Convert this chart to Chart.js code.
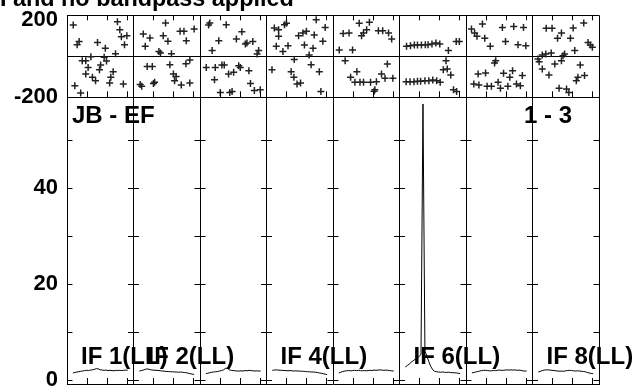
<!DOCTYPE html>
<html>
<head>
<meta charset="utf-8">
<script src="https://cdn.jsdelivr.net/npm/chart.js@4.4.1/dist/chart.umd.min.js"></script>
<style>
  html, body { margin: 0; padding: 0; background: #fff; }
  #wrap { width: 634px; height: 386px; overflow: hidden; }
</style>
</head>
<body>
<div id="wrap"><canvas id="possm" width="634" height="386"></canvas></div>
<script>
const titleText = 'I and no bandpass applied';
const baselineLabel = 'JB - EF';
const sourceLabel = '1 - 3';
// only some IF panels get a label in the original plot
const ifLabels = ['IF 1(LL)', 'IF 2(LL)', '', 'IF 4(LL)', '', 'IF 6(LL)', '', 'IF 8(LL)'];

const phaseTicks = [-200, 0, 200];
const ampTicks = [0, 10, 20, 30, 40, 50];
const ampLabels = [0, 20, 40];

// phase points (channel, degrees) per IF
const phaseChan = [
  [1.1, 12.4, 13.0, 13.4, 14.8, 14.2, 2.6, 2.1, 7.3, 9.3, 11.9, 3.4, 4.3, 5.6, 9.0, 9.6, 4.9, 8.1, 7.8, 4.3, 11.3, 6.0, 6.8, 10.7, 10.4, 13.9, 1.5, 3.0],
  [7.7, 2.0, 3.7, 2.5, 7.1, 8.3, 11.4, 12.4, 15.0, 13.0, 6.0, 6.4, 9.2, 12.9, 13.9, 3.0, 4.3, 8.8, 9.7, 10.4, 10.0, 11.7, 13.9, 1.2, 1.6, 4.6, 4.9],
  [2.0, 1.7, 6.2, 10.2, 4.3, 2.6, 8.8, 11.1, 11.5, 13.0, 14.5, 14.1, 1.1, 3.4, 5.1, 5.7, 6.8, 8.1, 9.4, 9.8, 12.0, 3.2, 12.4, 13.4, 14.9, 4.7, 7.1, 7.7],
  [1.5, 2.6, 4.1, 4.6, 12.2, 14.5, 2.6, 2.0, 5.0, 3.7, 7.7, 8.8, 9.7, 11.7, 13.9, 9.2, 11.4, 10.4, 6.6, 0.9, 5.8, 10.9, 13.0, 6.5, 7.3, 8.2, 13.4],
  [6.2, 8.8, 2.1, 3.6, 6.8, 7.3, 8.1, 11.1, 12.2, 13.7, 14.5, 1.1, 4.5, 2.6, 13.4, 5.6, 4.0, 5.1, 6.4, 7.3, 9.1, 10.6, 11.9, 12.8, 14.8, 10.2, 10.0],
  [1.3, 2.3, 3.3, 4.1, 5.1, 6.1, 6.8, 7.8, 8.8, 9.8, 12.0, 14.0, 14.8, 1.2, 2.2, 3.2, 4.1, 4.9, 6.0, 7.0, 8.0, 9.0, 9.9, 11.4, 10.7, 11.7, 12.6, 13.3, 14.1],
  [3.7, 0.9, 1.7, 2.3, 4.3, 5.7, 8.8, 11.7, 14.2, 9.6, 12.8, 14.8, 7.1, 6.8, 2.6, 4.5, 9.1, 11.4, 10.7, 13.9, 1.5, 2.8, 4.9, 6.0, 7.7, 8.3, 10.2, 12.4, 13.4],
  [3.0, 4.5, 6.9, 5.9, 9.9, 12.6, 9.2, 10.3, 13.7, 14.3, 14.8, 7.3, 7.7, 2.0, 2.9, 4.3, 1.2, 0.9, 5.2, 6.9, 11.7, 2.0, 3.7, 11.1, 12.8, 10.7, 6.3, 8.2, 8.8]
];
const phaseDeg = [
  [153, 169, 130, 96, 101, 57, 72, 57, 68, 39, 13, -21, -21, -2, -5, -23, -54, -42, -65, -86, -75, -102, -119, -102, -130, -135, -143, -179],
  [163, 109, 89, 49, 101, 73, 122, 122, 133, 76, 23, 16, 13, -36, -18, -49, -49, -41, -86, -98, -119, -140, -130, -138, -146, -132, -127],
  [163, 153, 154, 120, 76, 28, 85, 60, 65, 72, 28, 11, -54, -54, -42, -42, -86, -78, -46, -54, -70, -114, -132, -167, -163, -176, -176, -172],
  [138, 130, 154, 161, 179, 141, 98, 49, 52, 23, 101, 114, 122, 104, 73, 55, 39, 7, -16, -65, -75, -41, -75, -102, -135, -130, -171],
  [161, 166, 112, 114, 101, 114, 130, 125, 125, 114, 85, 31, 31, -21, -37, -75, -102, -127, -127, -127, -127, -124, -86, -107, -107, -163, -170],
  [49, 52, 55, 55, 55, 57, 57, 60, 65, 60, 28, 72, 72, -124, -124, -124, -122, -122, -119, -119, -115, -119, -127, -21, -65, -62, -91, -163, -172],
  [158, 133, 114, 98, 88, 49, 141, 146, 141, 72, 57, 52, -21, -33, -86, -81, -83, -70, -102, -94, -135, -140, -146, -146, -127, -156, -146, -135, -143],
  [137, 137, 114, 88, 138, 163, 88, 28, 68, 55, 44, 3, 11, 7, 11, 16, -26, -13, -37, -21, -42, -62, -91, -102, -94, -119, -156, -159, -176]
];

// amplitude spectra, sampled every half channel
const specChan = [1, 1.5, 2, 2.5, 3, 3.5, 4, 4.5, 5, 5.5, 6, 6.5, 7, 7.5, 8, 8.5, 9, 9.5, 10, 10.5, 11, 11.5, 12, 12.5, 13, 13.5, 14, 14.5, 15];
const ampIF = [
  [1.45, 1.55, 1.65, 1.7, 1.8, 1.85, 1.95, 2.0, 1.95, 2.05, 2.1, 2.2, 2.35, 2.3, 2.1, 2.05, 2.0, 2.05, 1.95, 2.0, 1.95, 1.9, 2.0, 1.95, 2.0, 1.95, 2.0, 2.05, 2.0],
  [1.85, 1.95, 2.05, 2.2, 2.3, 2.2, 2.1, 2.05, 2.0, 2.0, 1.95, 1.9, 1.85, 1.8, 1.75, 1.75, 1.7, 1.7, 1.65, 1.65, 1.6, 1.65, 1.6, 1.55, 1.5, 1.4, 1.3, 1.2, 1.15],
  [1.3, 1.4, 1.5, 1.6, 1.65, 1.7, 1.75, 1.85, 1.95, 2.1, 2.4, 2.45, 2.1, 2.0, 1.95, 1.9, 1.85, 1.85, 1.9, 1.85, 1.95, 1.9, 2.0, 1.95, 1.9, 1.85, 1.9, 1.85, 1.85],
  [2.0, 2.05, 2.1, 2.05, 2.0, 2.0, 1.95, 1.95, 1.9, 1.95, 1.9, 1.85, 1.9, 1.85, 1.85, 1.8, 1.8, 1.75, 1.7, 1.7, 1.65, 1.65, 1.6, 1.55, 1.45, 1.4, 1.3, 1.2, 1.1],
  [1.45, 1.6, 1.75, 1.85, 1.9, 1.95, 1.9, 1.95, 2.0, 1.95, 2.0, 1.95, 1.9, 1.95, 1.9, 1.95, 2.0, 1.95, 2.05, 2.0, 2.05, 2.1, 2.05, 2.0, 2.05, 2.0, 1.95, 1.9, 1.85],
  [2.7, 3.0, 3.3, 3.7, 4.0, 4.3, 4.6, 4.9, 5.3, 57.5, 6.0, 5.0, 3.8, 2.8, 2.1, 1.8, 1.7, 1.65, 1.6, 1.65, 1.6, 1.55, 1.6, 1.55, 1.5, 1.5, 1.45, 1.4, 1.3],
  [1.45, 1.55, 1.65, 1.75, 1.85, 1.95, 2.0, 2.0, 1.95, 1.9, 1.9, 1.95, 1.95, 2.0, 2.05, 2.0, 2.0, 2.05, 2.1, 2.05, 2.1, 2.05, 2.1, 2.0, 2.05, 2.0, 1.9, 1.85, 1.85],
  [1.65, 1.8, 1.95, 2.05, 2.1, 2.1, 2.05, 2.0, 1.95, 1.9, 1.85, 1.8, 1.85, 1.8, 1.9, 1.95, 2.0, 1.95, 1.9, 1.85, 1.9, 1.85, 1.8, 1.75, 1.7, 1.55, 1.45, 1.35, 1.3]
];

const PANEL = 17;            // panel width in channel units
const nIF = ampIF.length;
const minorTicks = [5.1, 10.2, 15.3];
const edge = p => p * PANEL - 0.5;
const panelEdges = [];
for (let p = 0; p <= nIF; p++) panelEdges.push(edge(p));

const FONT = 'Liberation Sans';
const tickFont = { family: FONT, size: 22, weight: 'bold' };
// the top phase label sits a little below its line, as in the original
const topTickFont = { family: FONT, size: 22, weight: 'bold', lineHeight: '8.8px' };

const phasePoints = [];
phaseChan.forEach((chans, p) => {
  chans.forEach((c, i) => phasePoints.push({ x: p * PANEL + c, y: phaseDeg[p][i] }));
});

const spectra = ampIF.map((amps, p) => ({
  type: 'line',
  yAxisID: 'yAmp',
  data: amps.map((a, i) => ({ x: p * PANEL + specChan[i], y: a })),
  borderColor: '#000',
  borderWidth: 1,
  pointRadius: 0,
  tension: 0
}));

// keep tick labels from pushing the plot area around
const noPad = s => { s.paddingTop = 0; s.paddingBottom = 0; s.paddingLeft = 0; s.paddingRight = 0; };

// small inward tick marks on the panel frames
const frameTicks = {
  id: 'frameTicks',
  afterDatasetsDraw(chart) {
    const { ctx, scales: { x, yPhase, yAmp }, chartArea } = chart;
    ctx.save();
    ctx.strokeStyle = '#000';
    ctx.lineWidth = 1;
    ctx.beginPath();
    for (let p = 0; p < nIF; p++) {
      minorTicks.forEach(off => {
        const px = Math.round(x.getPixelForValue(edge(p) + off)) + 0.5;
        ctx.moveTo(px, yPhase.top); ctx.lineTo(px, yPhase.top + 5);
        ctx.moveTo(px, yPhase.bottom); ctx.lineTo(px, yPhase.bottom - 6);
        ctx.moveTo(px, yAmp.bottom); ctx.lineTo(px, yAmp.bottom - 6);
      });
    }
    panelEdges.forEach(v => {
      const px = x.getPixelForValue(v);
      ampTicks.forEach(t => {
        const py = Math.round(yAmp.getPixelForValue(t)) + 0.5;
        ctx.moveTo(Math.max(px - 5.5, chartArea.left), py);
        ctx.lineTo(Math.min(px + 5.5, chartArea.right), py);
      });
    });
    ctx.stroke();
    ctx.restore();
  }
};

const panelText = {
  id: 'panelText',
  afterDraw(chart) {
    const { ctx, scales: { x, yAmp }, chartArea } = chart;
    ctx.save();
    ctx.fillStyle = '#000';
    ctx.font = 'bold 24px "' + FONT + '"';
    ctx.textBaseline = 'alphabetic';
    ifLabels.forEach((t, p) => {
      if (!t) return;
      ctx.fillText(t, x.getPixelForValue(edge(p)) + 14, yAmp.getPixelForValue(0) - 16);
    });
    ctx.fillText(baselineLabel, chartArea.left + 5, yAmp.top + 26);
    ctx.textAlign = 'right';
    ctx.fillText(sourceLabel, chartArea.right - 27, yAmp.top + 26);
    ctx.restore();
  }
};

new Chart(document.getElementById('possm'), {
  type: 'scatter',
  data: {
    datasets: [
      {
        yAxisID: 'yPhase',
        data: phasePoints,
        pointStyle: 'cross',
        pointRadius: 3.5,
        borderColor: '#222',
        borderWidth: 1.5
      },
      ...spectra
    ]
  },
  options: {
    responsive: false,
    animation: false,
    devicePixelRatio: 1,
    layout: { autoPadding: false, padding: { left: 0, right: 35, top: 0, bottom: 2 } },
    plugins: {
      legend: { display: false },
      tooltip: { enabled: false },
      title: {
        display: true,
        text: titleText,
        align: 'start',
        color: '#000',
        font: { family: FONT, size: 23.4, weight: 'bold', lineHeight: 1.2 },
        padding: { top: -14, bottom: 1.26 }
      }
    },
    scales: {
      x: {
        type: 'linear',
        min: edge(0),
        max: edge(nIF),
        afterBuildTicks: s => { s.ticks = panelEdges.map(v => ({ value: v })); },
        afterFit: s => { s.height = 0; noPad(s); },
        ticks: { display: false, autoSkip: false },
        grid: { color: '#000', lineWidth: 1, drawTicks: false },
        border: { display: true, color: '#000' }
      },
      yPhase: {
        type: 'linear',
        position: 'left',
        stack: 'panels',
        stackWeight: 82,
        weight: 2,
        min: -200,
        max: 200,
        afterBuildTicks: s => { s.ticks = phaseTicks.map(v => ({ value: v })); },
        afterFit: s => { s.width = 67; noPad(s); },
        ticks: {
          color: '#000',
          padding: 9,
          autoSkip: false,
          font: c => (c.tick && c.tick.value === 200 ? topTickFont : tickFont),
          callback: v => (v === 200 ? ['', '200'] : (v === 0 ? '' : String(v)))
        },
        grid: { color: '#000', drawTicks: false },
        border: { display: true, color: '#000' }
      },
      yAmp: {
        type: 'linear',
        position: 'left',
        stack: 'panels',
        stackWeight: 286.7,
        weight: 1,
        min: -0.85,
        max: 58.9,
        afterBuildTicks: s => { s.ticks = ampTicks.map(v => ({ value: v })); },
        afterFit: s => { s.width = 67; noPad(s); },
        ticks: { color: '#000', padding: 9, autoSkip: false, font: tickFont, callback: v => (ampLabels.includes(v) ? v : '') },
        grid: { drawOnChartArea: false, drawTicks: false },
        border: { display: true, color: '#000' }
      }
    }
  },
  plugins: [frameTicks, panelText]
});
</script>
</body>
</html>
